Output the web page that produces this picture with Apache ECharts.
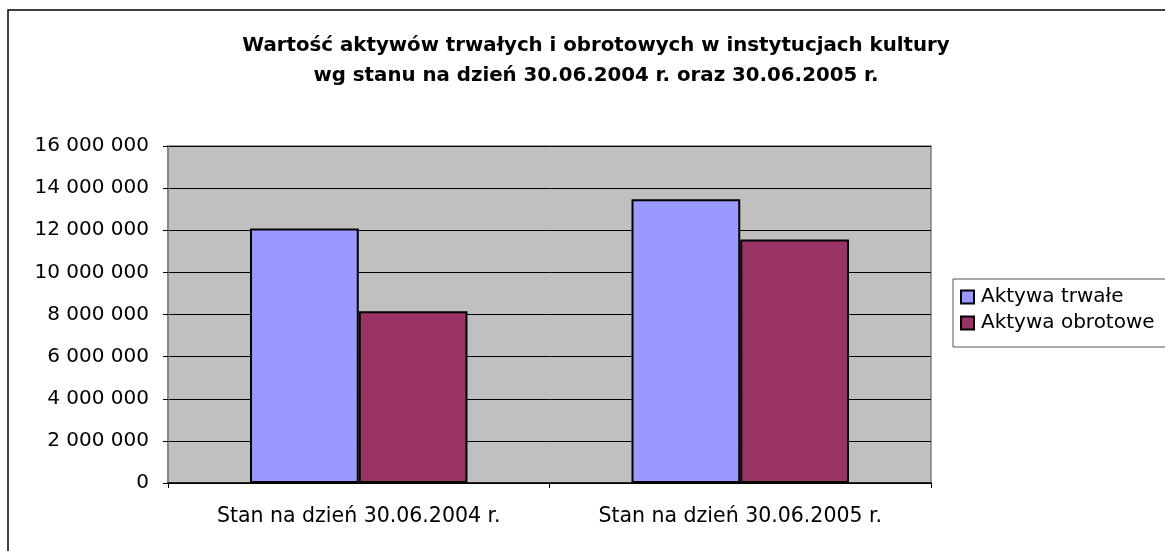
<!DOCTYPE html>
<html>
<head>
<meta charset="utf-8">
<script src="https://cdn.jsdelivr.net/npm/echarts@6/dist/echarts.min.js"></script>
<style>
  html, body { margin: 0; padding: 0; background: #fff; }
  #chart { width: 1165px; height: 551px; }
</style>
</head>
<body>
<div id="chart"></div>
<script>
// dane
const categories = ['Stan na dzień 30.06.2004 r.', 'Stan na dzień 30.06.2005 r.']
const aktywaTrwale = [12080000, 13470000]
const aktywaObrotowe = [8150000, 11560000]
const seriesNames = ['Aktywa trwałe', 'Aktywa obrotowe']
const titleLines = [
  'Wartość aktywów trwałych i obrotowych w instytucjach kultury',
  'wg stanu na dzień 30.06.2004 r. oraz 30.06.2005 r.'
]

const FONT = 'DejaVu Sans, Arial, sans-serif'
const chart = echarts.init(document.getElementById('chart'))

// separator tysięcy spacją
const fmt = v => String(v).replace(/\B(?=(\d{3})+(?!\d))/g, ' ')

const option = {
  animation: false,
  textStyle: { fontFamily: FONT },
  graphic: [
    {
      type: 'rect',
      shape: { x: 8, y: 10, width: 1170, height: 560 },
      style: { fill: 'none', stroke: '#000', lineWidth: 1.5 },
      silent: true,
      z: -1
    },
    {
      // tytuł
      type: 'text',
      x: 596,
      y: 31,
      style: {
        text: titleLines.join('\n'),
        font: 'bold 19.8px ' + FONT,
        fill: '#000',
        align: 'center',
        verticalAlign: 'top',
        lineHeight: 30
      },
      silent: true
    }
  ],
  legend: {
    orient: 'vertical',
    left: 953,
    top: 279,
    data: seriesNames,
    icon: 'rect',
    itemWidth: 13,
    itemHeight: 13,
    itemGap: 6,
    padding: [8, 80, 14, 7],
    backgroundColor: '#fff',
    borderColor: '#555',
    borderWidth: 1,
    textStyle: { fontSize: 20, color: '#000', padding: [0, 0, 0, 2] }
  },
  grid: {
    left: 168,
    right: 234,
    top: 146,
    bottom: 68,
    show: true,
    backgroundColor: '#c0c0c0',
    borderColor: '#808080',
    borderWidth: 1.5
  },
  xAxis: {
    type: 'category',
    data: categories,
    axisLine: { lineStyle: { color: '#000', width: 1.5 } },
    axisTick: { show: true, length: 5, lineStyle: { color: '#000' } },
    axisLabel: { fontSize: 20.5, color: '#000', margin: 23 }
  },
  yAxis: {
    type: 'value',
    min: 0,
    max: 16000000,
    interval: 2000000,
    axisLine: { show: true, lineStyle: { color: '#808080', width: 1.5 } },
    axisTick: { show: true, length: 5, lineStyle: { color: '#000' } },
    axisLabel: { fontSize: 20, color: '#000', margin: 19, formatter: fmt },
    splitLine: { lineStyle: { color: '#000', width: 1 } }
  },
  series: [
    {
      name: seriesNames[0],
      type: 'bar',
      data: aktywaTrwale,
      barGap: '0%',
      barCategoryGap: '43%',
      itemStyle: { color: '#9999ff', borderColor: '#000', borderWidth: 2 }
    },
    {
      name: seriesNames[1],
      type: 'bar',
      data: aktywaObrotowe,
      itemStyle: { color: '#993366', borderColor: '#000', borderWidth: 2 }
    }
  ]
}

chart.setOption(option)
</script>
</body>
</html>
